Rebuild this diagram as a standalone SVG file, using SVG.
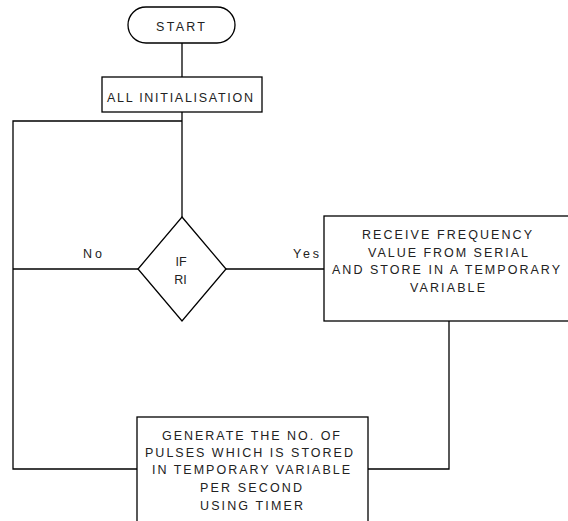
<svg xmlns="http://www.w3.org/2000/svg" width="568" height="521" viewBox="0 0 568 521">
<style>
.s{fill:#fff;stroke:#000;stroke-width:1.3}
.c{fill:none;stroke:#000;stroke-width:1.3}
text{font-family:"Liberation Sans",Arial,sans-serif;font-size:12.5px;fill:#222;text-anchor:middle}
</style>
<rect width="568" height="521" fill="#fff"/>
<g id="connectors">
<line class="c" x1="182" y1="43" x2="182" y2="77"/>
<line class="c" x1="182" y1="112" x2="182" y2="217"/>
<polyline class="c" points="182,121 13,121 13,469 137,469"/>
<line class="c" x1="13" y1="269" x2="138" y2="269"/>
<line class="c" x1="226" y1="269" x2="324" y2="269"/>
<polyline class="c" points="449,321 449,469 368,469"/>
<text x="92.5" y="258" textLength="19" lengthAdjust="spacing">No</text>
<text x="306" y="258" textLength="26" lengthAdjust="spacing">Yes</text>
</g>
<g id="start">
<rect class="s" x="128" y="7" width="107" height="36" rx="18" ry="18"/>
<text x="180.5" y="31" textLength="49" lengthAdjust="spacing">START</text>
</g>
<g id="init">
<rect class="s" x="102" y="77" width="160" height="35"/>
<text x="180" y="102" textLength="146" lengthAdjust="spacing">ALL INITIALISATION</text>
</g>
<g id="decision">
<polygon class="s" points="182,217 226,269 182,321 138,269"/>
<text x="181" y="266">IF</text>
<text x="180.5" y="284">RI</text>
</g>
<g id="receive">
<rect class="s" x="324" y="216" width="260" height="105"/>
<text x="447" y="239" textLength="170" lengthAdjust="spacing">RECEIVE FREQUENCY</text>
<text x="448" y="257" textLength="160" lengthAdjust="spacing">VALUE FROM SERIAL</text>
<text x="446" y="274" textLength="228" lengthAdjust="spacing">AND STORE IN A TEMPORARY</text>
<text x="447.5" y="292" textLength="75" lengthAdjust="spacing">VARIABLE</text>
</g>
<g id="generate">
<rect class="s" x="137" y="417" width="231" height="120"/>
<text x="251" y="440" textLength="178" lengthAdjust="spacing">GENERATE THE NO. OF</text>
<text x="249" y="457" textLength="208" lengthAdjust="spacing">PULSES  WHICH IS STORED</text>
<text x="251" y="474" textLength="198" lengthAdjust="spacing">IN TEMPORARY VARIABLE</text>
<text x="251" y="492" textLength="102" lengthAdjust="spacing">PER SECOND</text>
<text x="251.5" y="510" textLength="103" lengthAdjust="spacing">USING TIMER</text>
</g>
</svg>
